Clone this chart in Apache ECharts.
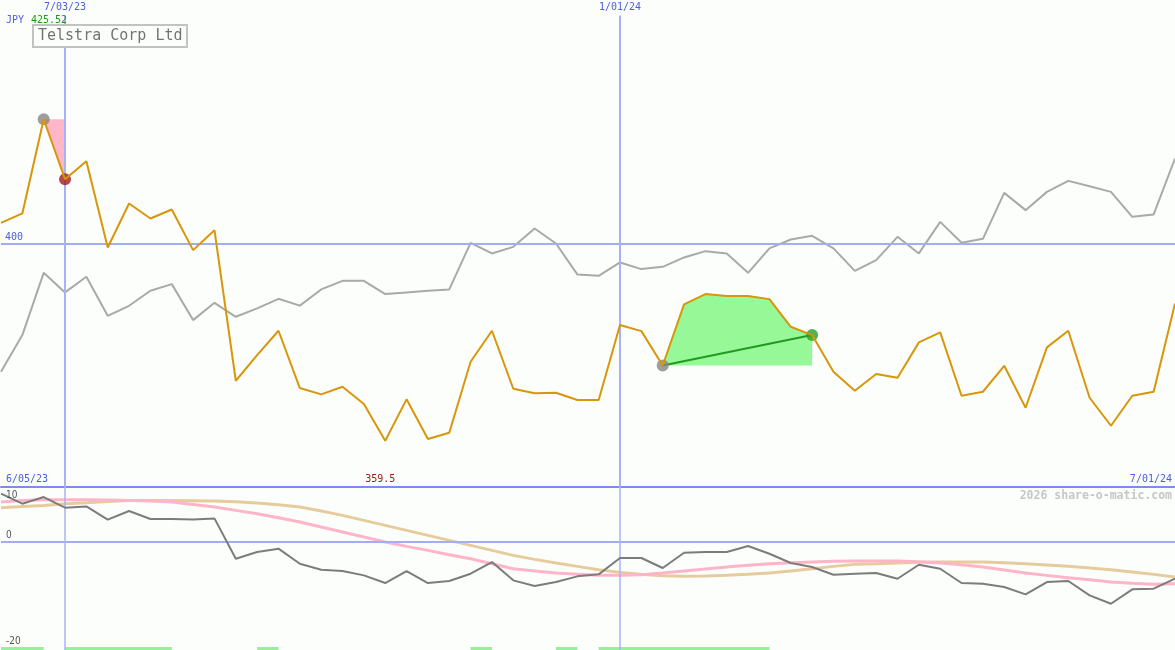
<!DOCTYPE html>
<html><head><meta charset="utf-8">
<script src="https://cdn.jsdelivr.net/npm/echarts@6/dist/echarts.min.js"></script>
<style>html,body{margin:0;padding:0;background:#fcfefc}#c{width:1175px;height:650px}</style>
</head><body><div id="c"></div>
<script>
// ---- data ----
const dates = ['6/12/23','6/19/23','6/26/23','7/03/23','7/10/23','7/17/23','7/24/23','7/31/23','8/07/23','8/14/23',
 '8/21/23','8/28/23','9/04/23','9/11/23','9/18/23','9/25/23','10/02/23','10/09/23','10/16/23','10/23/23',
 '10/30/23','11/06/23','11/13/23','11/20/23','11/27/23','12/04/23','12/11/23','12/18/23','12/25/23','1/01/24',
 '1/08/24','1/15/24','1/22/24','1/29/24','2/05/24','2/12/24','2/19/24','2/26/24','3/04/24','3/11/24',
 '3/18/24','3/25/24','4/01/24','4/08/24','4/15/24','4/22/24','4/29/24','5/06/24','5/13/24','5/20/24',
 '5/27/24','6/03/24','6/10/24','6/17/24','6/24/24','7/01/24'];
const price = [404.24,406.17,425.52,413.21,416.90,399.19,408.22,405.14,406.99,398.64,
 402.74,371.82,377.09,382.08,370.32,369.02,370.58,367.03,359.5,368.00,
 359.85,361.15,375.71,382.08,370.17,369.23,369.35,367.86,367.86,383.25,
 382.01,374.94,387.49,389.61,389.20,389.20,388.58,382.90,381.19,373.66,
 369.76,373.19,372.43,379.70,381.75,368.74,369.56,374.89,366.28,378.67,
 382.08,368.33,362.58,368.74,369.56,387.70];
const compare = [373.66,381.19,393.98,389.96,393.16,385.15,387.21,390.29,391.66,384.27,
 387.82,384.95,386.67,388.64,387.25,390.57,392.34,392.34,389.61,389.96,
 390.29,390.57,400.14,397.96,399.31,403.09,400.01,393.65,393.36,396.11,
 394.74,395.21,397.14,398.43,397.96,393.98,398.99,400.83,401.57,398.99,
 394.39,396.58,401.37,397.96,404.44,400.14,400.96,410.40,406.85,410.60,
 412.86,411.77,410.60,405.47,405.96,417.45];
const relStrength = [10.96,8.66,10.19,7.74,8.04,4.98,6.97,5.13,5.13,5.05,
 5.28,-4.00,-2.46,-1.69,-5.15,-6.53,-6.83,-7.83,-9.59,-6.83,
 -9.59,-9.13,-7.45,-4.76,-8.98,-10.28,-9.36,-8.06,-7.60,-3.84,
 -3.84,-6.14,-2.62,-2.46,-2.46,-1.08,-2.85,-4.99,-5.91,-7.68,
 -7.45,-7.29,-8.60,-5.38,-6.30,-9.59,-9.75,-10.51,-12.20,-9.36,
 -9.13,-12.43,-14.35,-11.05,-10.90,-8.60];
const avgFast = [9.04,9.42,9.58,9.58,9.58,9.50,9.42,9.27,9.04,8.50,
 7.89,7.12,6.36,5.44,4.44,3.29,2.14,0.99,-0.16,-1.16,
 -2.08,-3.08,-4.00,-5.15,-6.30,-6.83,-7.29,-7.60,-7.83,-7.83,
 -7.68,-7.29,-6.83,-6.37,-5.91,-5.53,-5.15,-4.92,-4.76,-4.61,
 -4.53,-4.53,-4.53,-4.69,-4.99,-5.38,-5.91,-6.60,-7.29,-7.83,
 -8.37,-8.83,-9.36,-9.67,-9.90,-9.75];
const avgSlow = [7.74,8.04,8.27,8.66,8.89,9.19,9.42,9.42,9.42,9.35,
 9.27,9.12,8.81,8.43,7.89,6.97,5.97,4.82,3.67,2.52,
 1.37,0.22,-0.93,-2.08,-3.23,-4.15,-4.99,-5.76,-6.53,-7.14,
 -7.60,-7.91,-8.06,-7.98,-7.83,-7.60,-7.29,-6.83,-6.30,-5.76,
 -5.30,-5.15,-4.99,-4.84,-4.76,-4.76,-4.76,-4.92,-5.15,-5.45,
 -5.76,-6.14,-6.53,-7.06,-7.60,-8.21];
const greenBands = [[0,2],[3,8],[12,13],[22,23],[26,27],[28,36]];
const markerDates = ['7/03/23','1/01/24'];
const edgeDates = ['6/05/23','7/01/24'];
const priceLevel = 400;
const lowerTickLabels = ['10','0','-20'];
const drawdown = [2,3];
const rally = [31,38];
const title = 'Telstra Corp Ltd';
const currency = 'JPY';
const watermark = '2026 share-o-matic.com';

// ---- chart ----
const BLUE_TXT = '#4c5ce6';
const MONO = '"DejaVu Sans Mono", monospace';
const maxIdx = price.indexOf(Math.max(...price));
const minIdx = price.indexOf(Math.min(...price));

function fillArea(a, b, color) {
  return {
    type: 'custom', xAxisIndex: 0, yAxisIndex: 0, z: 3, silent: true,
    data: [[a, price[a]]],
    renderItem: function (params, api) {
      const base = price[a];
      const pts = [];
      for (let i = a; i <= b; i++) pts.push(api.coord([i, price[i]]));
      pts.push(api.coord([b, base]));
      return { type: 'polygon', shape: { points: pts }, style: { fill: color } };
    }
  };
}

const chart = echarts.init(document.getElementById('c'));
chart.setOption({
  animation: false,
  backgroundColor: '#fcfefc',
  grid: [
    { left: 1, width: 1176, top: 0, height: 487 },
    { left: 1, width: 1176, top: 487, height: 163 }
  ],
  xAxis: [
    { type: 'category', gridIndex: 0, data: dates, boundaryGap: false,
      axisLine: { show: true, onZero: false, lineStyle: { color: '#7d8cec', width: 2 } },
      axisTick: { show: false }, axisLabel: { show: false }, splitLine: { show: false } },
    { type: 'category', gridIndex: 1, data: dates, boundaryGap: false, show: false }
  ],
  yAxis: [
    { type: 'value', gridIndex: 0, min: 350, max: 450, show: false },
    { type: 'value', gridIndex: 1, min: -25, max: 12.5, show: false }
  ],
  series: [
    { type: 'line', name: 'compare', xAxisIndex: 0, yAxisIndex: 0, data: compare, symbol: 'none', z: 2,
      lineStyle: { color: '#a9a9a9', width: 2 },
      markLine: { silent: true, symbol: ['none', 'none'], animation: false,
        data: [
          { yAxis: priceLevel, lineStyle: { color: '#a2aef2', width: 2, type: 'solid' },
            label: { show: true, position: 'insideStartTop', formatter: String(priceLevel), color: BLUE_TXT,
              fontFamily: MONO, fontSize: 10, distance: [4, 1] } }
        ].concat(markerDates.map(d => [
          { xAxis: d, yAxis: 446.8, lineStyle: { color: '#a6b2f4', width: 2, type: 'solid' },
            label: { show: true, position: 'start', formatter: d, color: BLUE_TXT, fontFamily: MONO, fontSize: 10, distance: 3 } },
          { xAxis: d, yAxis: 350 }
        ]))
      } },
    fillArea(drawdown[0], drawdown[1], '#ffb6c8'),
    fillArea(rally[0], rally[1], '#96f896'),
    { type: 'line', name: 'rally', xAxisIndex: 0, yAxisIndex: 0, z: 4, symbol: 'none', connectNulls: true,
      data: dates.map((d, i) => (i === rally[0] || i === rally[1]) ? price[i] : null),
      lineStyle: { color: '#229a22', width: 2 } },
    { type: 'scatter', xAxisIndex: 0, yAxisIndex: 0, z: 5, symbolSize: 12, silent: true,
      data: [
        { value: [drawdown[0], price[drawdown[0]]], itemStyle: { color: '#848484' } },
        { value: [drawdown[1], price[drawdown[1]]], itemStyle: { color: '#a41c1c' } },
        { value: [rally[0], price[rally[0]]], itemStyle: { color: '#848484' } },
        { value: [rally[1], price[rally[1]]], itemStyle: { color: '#26a026' } }
      ] },
    { type: 'line', name: 'price', xAxisIndex: 0, yAxisIndex: 0, data: price, symbol: 'none', z: 6,
      lineStyle: { color: '#d8960a', width: 2 },
      markPoint: { silent: true, symbol: 'circle', symbolSize: 0, animation: false,
        data: [{ coord: [minIdx, 350], value: price[minIdx],
          label: { show: true, position: 'top', distance: 3, offset: [-5, 0], formatter: String(price[minIdx]),
            color: '#a01818', fontFamily: MONO, fontSize: 10 } }] } },
    { type: 'line', name: 'slow', xAxisIndex: 1, yAxisIndex: 1, data: avgSlow, symbol: 'none', z: 3,
      lineStyle: { color: '#e6cc9c', width: 3 },
      markArea: { silent: true, itemStyle: { color: '#98f096', opacity: 1 },
        data: greenBands.map(([a, b]) => [{ xAxis: dates[a], yAxis: -25 }, { xAxis: dates[b], yAxis: -24.3 }]) },
      markLine: { silent: true, symbol: ['none', 'none'], animation: false, label: { show: false },
        data: [{ yAxis: 0, lineStyle: { color: '#a2aef2', width: 2, type: 'solid' } }]
          .concat(markerDates.map(d => ({ xAxis: d, lineStyle: { color: '#a6b2f4', width: 1.5, type: 'solid' } }))) } },
    { type: 'line', name: 'fast', xAxisIndex: 1, yAxisIndex: 1, data: avgFast, symbol: 'none', z: 4,
      lineStyle: { color: '#ffb4c8', width: 3 } },
    { type: 'line', name: 'rel', xAxisIndex: 1, yAxisIndex: 1, data: relStrength, symbol: 'none', z: 5,
      lineStyle: { color: '#7c7c7c', width: 2 } }
  ],
  graphic: [
    { type: 'rect', z: 100, shape: { x: 33, y: 25, width: 154, height: 22 },
      style: { fill: '#fcfefc', stroke: '#c2c2c2', lineWidth: 2 } },
    { type: 'text', z: 101, x: 38, y: 36, style: { text: title, fill: '#737373', font: '15px ' + MONO, verticalAlign: 'middle' } },
    { type: 'text', z: 101, x: 6, y: 20, style: { text: currency, fill: BLUE_TXT, font: '10px ' + MONO, verticalAlign: 'middle' } },
    { type: 'text', z: 101, x: 31, y: 20, style: { text: String(price[maxIdx]), fill: '#1c9a1c', font: '10px ' + MONO, verticalAlign: 'middle' } },
    { type: 'text', z: 101, x: 6, y: 479, style: { text: edgeDates[0], fill: BLUE_TXT, font: '10px ' + MONO, verticalAlign: 'middle' } },
    { type: 'text', z: 101, x: 1172, y: 479, style: { text: edgeDates[1], fill: BLUE_TXT, font: '10px ' + MONO, verticalAlign: 'middle', align: 'right' } },
    { type: 'text', z: 101, x: 1172, y: 496, style: { text: watermark, fill: '#c6c6c6', font: 'bold 11.5px ' + MONO, verticalAlign: 'middle', align: 'right' } },
    { type: 'text', z: 101, x: 6, y: 495, style: { text: lowerTickLabels[0], fill: '#555', font: '10px "DejaVu Sans Condensed", sans-serif', verticalAlign: 'middle' } },
    { type: 'text', z: 101, x: 6, y: 535, style: { text: lowerTickLabels[1], fill: '#555', font: '10px "DejaVu Sans Condensed", sans-serif', verticalAlign: 'middle' } },
    { type: 'text', z: 101, x: 6, y: 641, style: { text: lowerTickLabels[2], fill: '#555', font: '10px "DejaVu Sans Condensed", sans-serif', verticalAlign: 'middle' } }
  ]
});
</script>
</body></html>
